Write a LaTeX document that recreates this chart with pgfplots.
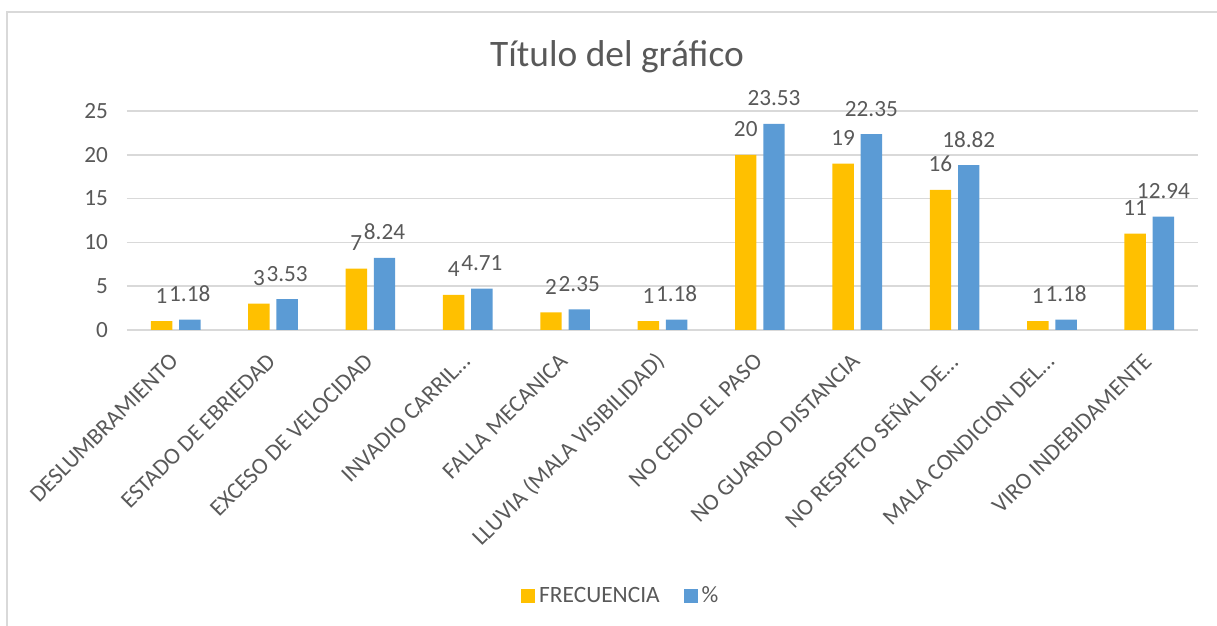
\documentclass[border=0pt]{standalone}
\usepackage{fontspec}
\setmainfont{Carlito}
\usepackage{pgfplots}
\pgfplotsset{compat=1.18}
\definecolor{cOrange}{HTML}{FFC000}
\definecolor{cBlue}{HTML}{5B9BD5}
\definecolor{cText}{HTML}{595959}
\definecolor{cGrid}{HTML}{D9D9D9}
\begin{document}
\begin{tikzpicture}
\useasboundingbox (0pt,0pt) rectangle (608.5pt,313pt);
\draw[cGrid, line width=1pt] (3.5pt,0pt) -- (3.5pt,307pt) -- (609pt,307pt);
\node[anchor=base, text=cText, font=\fontsize{18.7}{21}\selectfont, inner sep=0pt] at (308.5pt,279.6pt) {Título del gráfico};
\begin{axis}[
  at={(63.5pt,148pt)}, anchor=south west,
  scale only axis, width=535.5pt, height=109.5pt,
  ybar, bar width=0.22,
  xmin=-0.5, xmax=10.5, ymin=0, ymax=25,
  ytick={0,5,10,15,20,25},
  xtick={0,1,2,3,4,5,6,7,8,9,10},
  xticklabels={DESLUMBRAMIENTO, ESTADO DE EBRIEDAD, EXCESO DE VELOCIDAD, INVADIO CARRIL…, FALLA MECANICA, LLUVIA (MALA VISIBILIDAD), NO CEDIO EL PASO, NO GUARDO DISTANCIA, NO RESPETO SEÑAL DE…, MALA CONDICION DEL…, VIRO INDEBIDAMENTE},
  major tick length=0pt,
  axis line style={draw=none},
  ymajorgrids, major grid style={cGrid, line width=0.8pt},
  /pgf/number format/assume math mode=true,
  yticklabel style={font=\fontsize{11.6}{13}\selectfont, text=cText, xshift=-6pt},
  xticklabel shift=13pt,
  xticklabel style={font=\fontsize{11.7}{13}\selectfont, text=cText, rotate=45, anchor=east, inner sep=2pt, xshift=1pt},
  nodes near coords,
  every node near coord/.append style={font=\fontsize{11.6}{13}\selectfont, text=cText, anchor=base, yshift=9pt, inner sep=0pt},
  legend columns=2,
  legend style={draw=none, at={(axis description cs:0.462,-1.215)}, anchor=center, font=\fontsize{11.7}{13}\selectfont, text=cText, /tikz/every even column/.append style={column sep=10pt}},
  legend image code/.code={\fill[#1] (0pt,-3.5pt) rectangle (7pt,3.5pt);},
]
\addplot[fill=cOrange, draw=none, bar shift=-0.145, nodes near coords style={/pgf/number format/.cd, fixed, precision=0}] coordinates {
(0,1) (1,3) (2,7) (3,4) (4,2) (5,1) (6,20) (7,19) (8,16) (9,1) (10,11)};
\addlegendentry{FRECUENCIA}
\addplot[fill=cBlue, draw=none, bar shift=0.145, nodes near coords style={/pgf/number format/.cd, fixed, fixed zerofill, precision=2}] coordinates {
(0,1.18) (1,3.53) (2,8.24) (3,4.71) (4,2.35) (5,1.18) (6,23.53) (7,22.35) (8,18.82) (9,1.18) (10,12.94)};
\addlegendentry{\%}
\end{axis}
\end{tikzpicture}
\end{document}
